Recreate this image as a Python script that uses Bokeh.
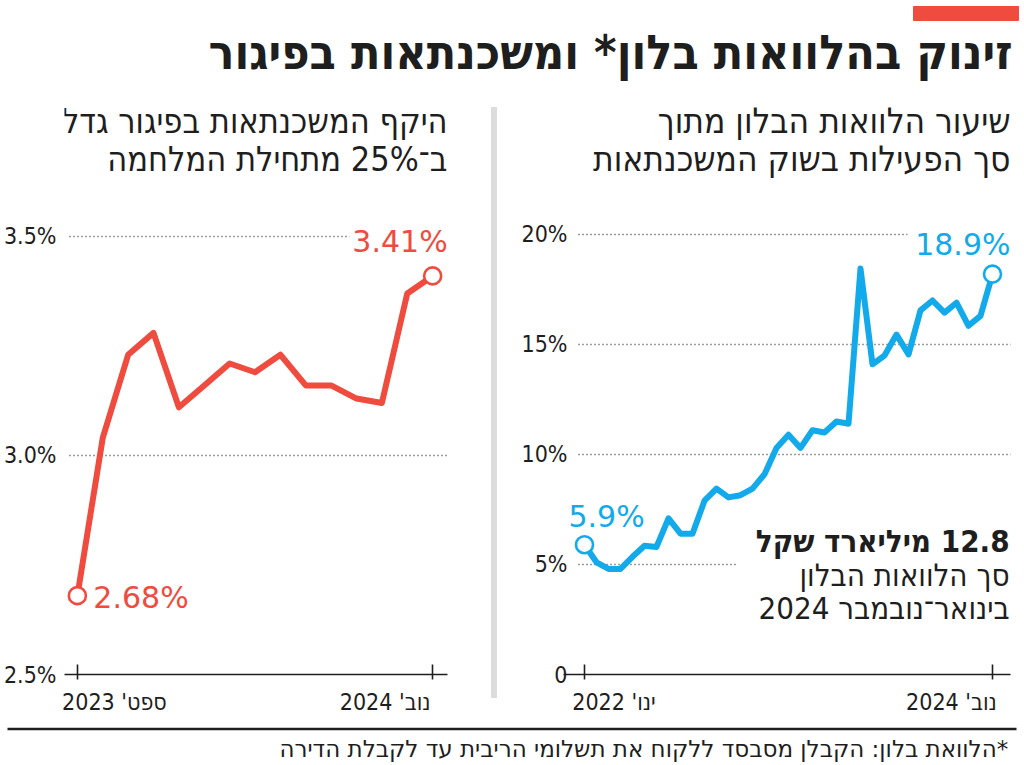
from bokeh.plotting import figure
from bokeh.models import Range1d, Label, ColumnDataSource, FixedTicker, LinearAxis, Div
from bokeh.layouts import column, row
from bokeh.embed import file_html
from bokeh.resources import INLINE
from bokeh.core.properties import value

# ---------------- data ----------------
RLM = "\u200f"
title_text = "זינוק בהלוואות בלון* ומשכנתאות בפיגור"
left_subtitle = ["היקף המשכנתאות בפיגור גדל", "ב־25% מתחילת המלחמה"]
right_subtitle = ["שיעור הלוואות הבלון מתוך", "סך הפעילות בשוק המשכנתאות"]
footnote = RLM + "*הלוואת בלון: הקבלן מסבסד ללקוח את תשלומי הריבית  עד לקבלת הדירה"
callout = [RLM + "12.8 מיליארד שקל", "סך הלוואות הבלון", "בינואר־נובמבר 2024"]

# left: share of mortgages in arrears, monthly Sep 2023 .. Nov 2024
arrears_months = ["2023-09", "2023-10", "2023-11", "2023-12", "2024-01", "2024-02", "2024-03",
                  "2024-04", "2024-05", "2024-06", "2024-07", "2024-08", "2024-09", "2024-10", "2024-11"]
arrears_pct = [2.68, 3.04, 3.23, 3.28, 3.11, 3.16, 3.21, 3.19, 3.23, 3.16, 3.16, 3.13, 3.12, 3.37, 3.41]
arrears_end_labels = ["2.68%", "3.41%"]
arrears_xtick_labels = ["ספט' 2023", "נוב' 2024"]
arrears_yticks = [2.5, 3.0, 3.5]
arrears_ytick_labels = ["2.5%", "3.0%", "3.5%"]

# right: balloon loans share of mortgage activity, monthly Jan 2022 .. Nov 2024
balloon_months = [f"{y}-{m:02d}" for y in (2022, 2023, 2024) for m in range(1, 13)][:35]
balloon_pct = [5.9, 5.1, 4.8, 4.8, 5.35, 5.85, 5.8, 7.1, 6.4, 6.4, 7.9, 8.45,
               8.05, 8.15, 8.45, 9.1, 10.3, 10.9, 10.3, 11.1, 11.0, 11.5, 11.4, 18.45,
               14.1, 14.5, 15.45, 14.55, 16.55, 17.0, 16.45, 16.9, 15.85, 16.3, 18.2]
balloon_end_labels = ["5.9%", "18.9%"]
balloon_xtick_labels = ["ינו' 2022", "נוב' 2024"]
balloon_yticks = [0, 5, 10, 15, 20]
balloon_ytick_labels = ["0", "5%", "10%", "15%", "20%"]

RED = "#ef4b3f"
BLUE = "#12aaea"
INK = "#1e1e1e"
HEB = "DejaVu Sans Condensed"
NUM = "DejaVu Sans"
HEAD_H = 95
ROW_H = 631
FOOT_H = 39


def base_fig(**kw):
    p = figure(toolbar_location=None, output_backend="svg", title=None, **kw)
    p.outline_line_color = None
    p.grid.visible = False
    p.background_fill_color = "white"
    p.border_fill_color = "white"
    return p


# ---------------- header ----------------
header = base_fig(width=1024, height=HEAD_H, x_range=Range1d(0, 1024), y_range=Range1d(HEAD_H, 0),
                  x_axis_type=None, y_axis_type=None, min_border=0)
header.quad(left=[913], right=[1018], top=[6], bottom=[20], color=RED)
header.add_layout(Label(x=1012, y=51, text=title_text, text_font=HEB, text_font_style="bold",
                        text_font_size="48px", text_align="right", text_baseline="middle",
                        text_color=INK))


def panel(width, mb_left, mb_right, xr, yr, months, vals, color, yticks, ylabels,
          end_labels, end_xoff, end_yoff, end_align, xtick_labels, xlab_centers,
          grid_x0, grid_x1, std):
    p = base_fig(width=width, height=ROW_H, x_range=Range1d(*xr), y_range=Range1d(*yr),
                 min_border_left=mb_left, min_border_right=mb_right,
                 min_border_top=0, min_border_bottom=52)
    idx = list(range(len(months)))
    # dotted grid lines
    gy = [t for t in yticks if t != yr[0]]
    p.segment(x0=grid_x0, x1=grid_x1, y0=gy, y1=gy, line_color="#3a3a3a",
              line_width=1.3, line_dash="1 3")
    p.line(idx, vals, line_width=6, color=color, line_join="round", line_cap="round")
    ends = ColumnDataSource(dict(x=[idx[0], idx[-1]], y=[vals[0], vals[-1]], t=end_labels,
                                 xo=end_xoff, yo=end_yoff, al=end_align))
    p.scatter("x", "y", source=ends, size=17, fill_color="white", line_color=color, line_width=2.6)
    p.text("x", "y", text="t", source=ends, x_offset="xo", y_offset="yo", text_align="al",
           text_baseline="middle", text_color=color, text_font=value(NUM), text_font_size="30px")
    # x axis: line + tick marks
    xa = p.xaxis[0]
    xa.ticker = FixedTicker(ticks=[idx[0], idx[-1]])
    xa.axis_line_color = INK
    xa.axis_line_width = 1.6
    xa.major_tick_line_color = INK
    xa.major_tick_line_width = 1.6
    xa.major_tick_in = 10
    xa.major_tick_out = 5
    xa.minor_tick_line_color = None
    xa.major_label_text_color = None
    xa.major_label_text_font_size = "1px"
    xa.major_label_standoff = 0
    # second axis carrying the (wide, Hebrew) month labels
    xl = LinearAxis(ticker=FixedTicker(ticks=xlab_centers),
                    major_label_overrides={c: s for c, s in zip(xlab_centers, xtick_labels)},
                    axis_line_color=None, major_tick_line_color=None, minor_tick_line_color=None,
                    major_label_standoff=3, major_label_text_font=HEB,
                    major_label_text_font_size="23px", major_label_text_color=INK)
    p.add_layout(xl, "below")
    ya = p.yaxis[0]
    ya.ticker = FixedTicker(ticks=yticks)
    ya.major_label_overrides = {t: s for t, s in zip(yticks, ylabels)}
    ya.axis_line_color = None
    ya.major_tick_line_color = None
    ya.minor_tick_line_color = None
    ya.major_label_standoff = std
    ya.major_label_text_font = HEB
    ya.major_label_text_font_size = "23px"
    ya.major_label_text_color = INK
    return p


left = panel(488, 60, 41, (-0.507, 14.585), (2.5, 3.8219), arrears_months, arrears_pct, RED,
             arrears_yticks, arrears_ytick_labels, arrears_end_labels, [16, 15], [2, -34],
             ["left", "right"], arrears_xtick_labels, [1.46, 12.13],
             [-0.31, -0.31], [14.6, 10.73], 2)
for txt, yy in zip(left_subtitle, [3.7648, 3.6758]):
    left.add_layout(Label(x=14.585, y=yy, text=txt, text_align="right", text_baseline="middle",
                          text_font=HEB, text_font_size="34px", text_color=INK))

right = panel(524, 63, 14, (-1.75, 35.5), (0, 26.318), balloon_months, balloon_pct, BLUE,
              balloon_yticks, balloon_ytick_labels, balloon_end_labels, [-16, 18], [-28, -30],
              ["left", "right"], balloon_xtick_labels, [2.46, 30.58],
              [-0.5, -0.5, -0.5, -0.5], [12.75, 35.8, 35.8, 26.9], -10)
for txt, yy in zip(right_subtitle, [25.18, 23.41]):
    right.add_layout(Label(x=35.5, y=yy, text=txt, text_align="right", text_baseline="middle",
                           text_font=HEB, text_font_size="35px", text_color=INK))
for txt, yy, st in zip(callout, [6.09, 4.545, 3.045], ["bold", "normal", "normal"]):
    right.add_layout(Label(x=35.42, y=yy, text=txt, text_align="right", text_baseline="middle",
                           text_font=HEB, text_font_style=st, text_font_size="31px",
                           text_color=INK))

# thin grey divider between the panels (plain HTML, so it does not affect frame alignment)
sep = Div(width=12, height=ROW_H, margin=0,
          text='<div style="margin:12px 0 0 3px;width:6px;height:591px;background:#dcdcdc"></div>')

# ---------------- footer ----------------
footer = base_fig(width=1024, height=FOOT_H, x_range=Range1d(0, 1024), y_range=Range1d(FOOT_H, 0),
                  x_axis_type=None, y_axis_type=None, min_border=0)
footer.segment(x0=[7], x1=[1016], y0=[2.5], y1=[2.5], line_color=INK, line_width=2.5)
footer.add_layout(Label(x=1015, y=22, text=footnote, text_align="right", text_baseline="middle",
                        text_font=NUM, text_font_size="23px", text_color=INK))

layout = column(header, row(left, sep, right), footer)
open("out.html", "w").write(file_html(layout, INLINE))
